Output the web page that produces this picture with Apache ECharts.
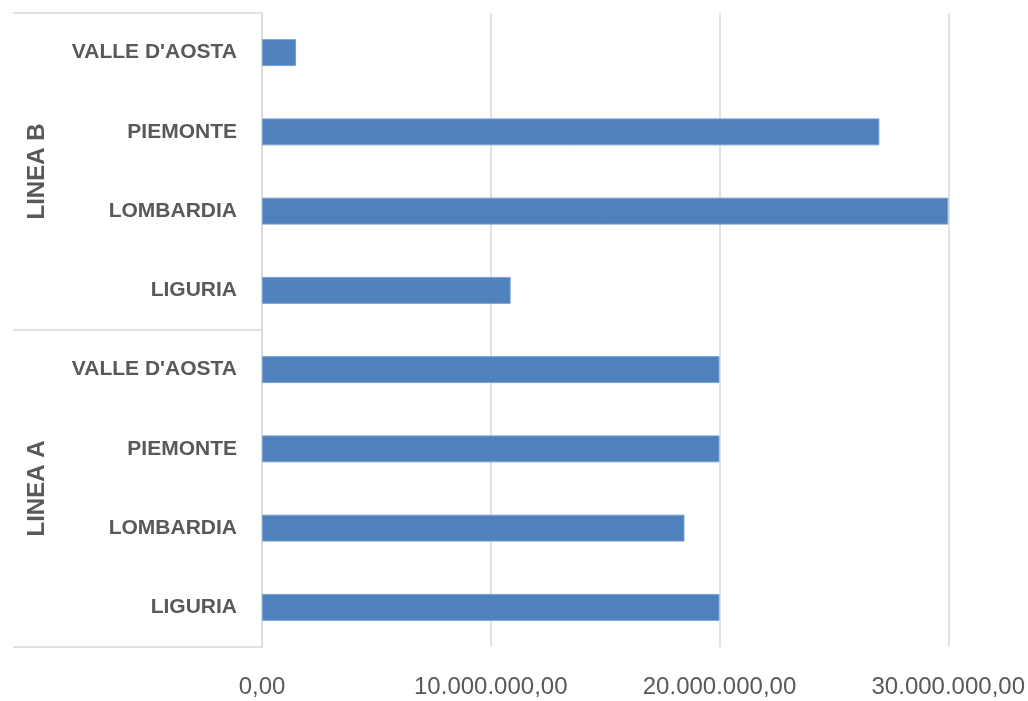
<!DOCTYPE html>
<html>
<head>
<meta charset="utf-8">
<script src="https://cdn.jsdelivr.net/npm/echarts@6/dist/echarts.min.js"></script>
<style>
html,body{margin:0;padding:0;background:#fff;}
#c{width:1028px;height:701px;}
</style>
</head>
<body>
<div id="c"></div>
<script>
// Categories listed bottom to top (ECharts category y axis starts at the bottom)
const groups = ['LINEA A', 'LINEA B'];
const regions = ['LIGURIA', 'LOMBARDIA', 'PIEMONTE', "VALLE D'AOSTA"];
const valuesLineaA = [20000000, 18470000, 20000000, 20000000];
const valuesLineaB = [10870000, 30000000, 26990000, 1490000];
const xTicks = [0, 10000000, 20000000, 30000000];

const categories = [];
groups.forEach(g => regions.forEach(r => categories.push(g + '|' + r)));
const values = valuesLineaA.concat(valuesLineaB);

const FONT = "'Liberation Sans Narrow', 'Arial Narrow', 'Liberation Sans', sans-serif";
const TXT = '#595959';
const GRID = '#d9d9d9';

function fmtIt(v) {
  const s = Math.round(v).toString().replace(/\B(?=(\d{3})+(?!\d))/g, '.');
  return s + ',00';
}

const chart = echarts.init(document.getElementById('c'));
chart.setOption({
  animation: false,
  backgroundColor: '#fff',
  grid: { left: 262, right: 74, top: 13, bottom: 54, containLabel: false },
  xAxis: {
    type: 'value',
    min: xTicks[0],
    max: xTicks[xTicks.length - 1],
    interval: xTicks[1] - xTicks[0],
    axisLine: { show: false },
    axisTick: { show: false },
    splitLine: { show: true, lineStyle: { color: GRID, width: 1.5 } },
    axisLabel: {
      margin: 28,
      color: TXT,
      fontFamily: FONT,
      fontSize: 24,
      formatter: fmtIt
    }
  },
  yAxis: [
    {
      type: 'category',
      data: categories,
      position: 'left',
      axisLine: { show: true, lineStyle: { color: GRID, width: 1.5 } },
      axisTick: { show: false },
      splitLine: { show: false },
      axisLabel: {
        margin: 25,
        color: TXT,
        fontFamily: FONT,
        fontWeight: 'bold',
        fontSize: 21,
        formatter: v => v.split('|')[1]
      }
    },
    {
      type: 'category',
      data: groups,
      position: 'left',
      boundaryGap: true,
      axisLine: { show: false },
      axisTick: { show: true, length: 249, interval: 0, lineStyle: { color: GRID, width: 1.5 } },
      splitLine: { show: false },
      axisLabel: {
        rotate: 90,
        margin: 213,
        color: TXT,
        fontFamily: FONT,
        fontWeight: 'bold',
        fontSize: 24
      }
    }
  ],
  series: [
    {
      type: 'bar',
      yAxisIndex: 0,
      data: values,
      barWidth: '34%',
      itemStyle: { color: '#4f81bd', borderColor: '#7aa0d0', borderWidth: 1 }
    }
  ]
});
</script>
</body>
</html>
